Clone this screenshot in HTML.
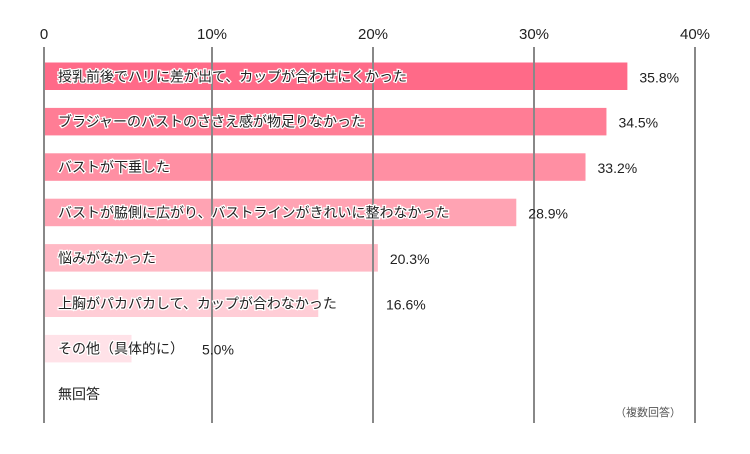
<!DOCTYPE html>
<html><head><meta charset="utf-8"><style>
body{margin:0;background:#fff;}
svg text{font-family:"Liberation Sans","Noto Sans CJK JP",sans-serif;}
</style></head><body>
<svg width="750" height="449" viewBox="0 0 750 449" xmlns="http://www.w3.org/2000/svg">
<g id="bars"></g>
<g id="grid"></g>
<g id="labels"></g>
<g id="ticks"></g>
<text x="648" y="416" font-size="11" fill="#555" text-anchor="middle">（複数回答）</text>
</svg>
<script>
const categories=["授乳前後でハリに差が出て、カップが合わせにくかった","ブラジャーのバストのささえ感が物足りなかった","バストが下垂した","バストが脇側に広がり、バストラインがきれいに整わなかった","悩みがなかった","上胸がパカパカして、カップが合わなかった","その他（具体的に）","無回答"];
const values=[35.8,34.5,33.2,28.9,20.3,16.6,5.0,0];
const valueLabels=["35.8%","34.5%","33.2%","28.9%","20.3%","16.6%","5.0%",""];
const ticks=[0,10,20,30,40];
const tickLabels=["0","10%","20%","30%","40%"];
const colors=["#ff6a88","#ff7d95","#ff8fa3","#ffa3b3","#ffb9c5","#ffcdd6","#ffe2e8","#fff"];
const NS="http://www.w3.org/2000/svg";
const x0=44;
function x(v){return v===0?x0:51+v*16.1;}
function y(i){return 62.5+i*45.4;}
const bh=27.5;
function mk(t,a,p){const e=document.createElementNS(NS,t);for(const k in a)e.setAttribute(k,a[k]);p.appendChild(e);return e;}
const gb=document.getElementById('bars'),gg=document.getElementById('grid'),gl=document.getElementById('labels'),gt=document.getElementById('ticks');
values.forEach((v,i)=>{
 if(v>0){const r=mk('rect',{x:x0,y:y(i),width:x(v)-x0,height:bh,fill:colors[i]},gb);
 
 }
});
ticks.forEach((t,i)=>{
 const l=mk('line',{x1:x(t),x2:x(t),y1:47,y2:423,stroke:'#888','stroke-width':2},gg);
 
 
 const tx=mk('text',{x:x(t),y:39,'font-size':15,fill:'#222','text-anchor':'middle'},gt);
 tx.textContent=tickLabels[i];
 
 
});
categories.forEach((c,i)=>{
 const t=mk('text',{x:58,y:y(i)+bh/2+5,'font-size':14,fill:'#222',stroke:'#fff','stroke-width':2.5,'paint-order':'stroke'},gl);
 t.textContent=c;
 
 
 if(valueLabels[i]){
  const vx=Math.max(x(values[i])+12, i===5?386:0, i===6?202:0, i===3?527:0);
  const v=mk('text',{x:vx,y:y(i)+bh/2+6,'font-size':14,fill:'#222'},gl);
  v.textContent=valueLabels[i];
  
  
 }
});
</script>
</body></html>
